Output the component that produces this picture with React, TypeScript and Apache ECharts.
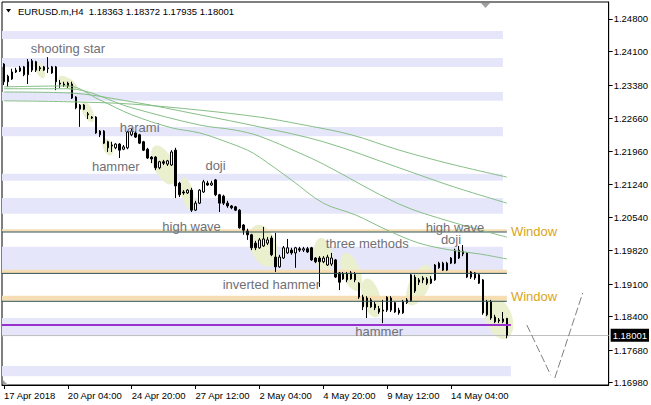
import React, { useEffect, useRef } from 'react';
import * as echarts from 'echarts';

const SYMBOL = 'EURUSD.m,H4';
const X_TICK_LABELS = ['17 Apr 2018', '20 Apr 04:00', '24 Apr 20:00', '27 Apr 12:00', '2 May 04:00', '4 May 20:00', '9 May 12:00', '14 May 04:00'];
const BARS_PER_LABEL = 16;
const SLOT_COUNT = 152;
const Y_TICKS = [1.1698, 1.1768, 1.184, 1.191, 1.1982, 1.2054, 1.2124, 1.2196, 1.2266, 1.2338, 1.241, 1.248];
const Y_MIN = 1.1693;
const Y_MAX = 1.25165;

// [open, close, low, high]
const CANDLES: number[][] = [
  [1.2383, 1.2345, 1.2338, 1.2385], [1.2357, 1.2345, 1.2334, 1.2360], [1.2351, 1.2366, 1.2349, 1.2373], [1.2366, 1.2370, 1.2364, 1.2375],
  [1.2368, 1.2375, 1.2366, 1.2379], [1.2360, 1.2377, 1.2357, 1.2379], [1.2360, 1.2388, 1.2340, 1.2394], [1.2370, 1.2390, 1.2366, 1.2394],
  [1.2388, 1.2370, 1.2366, 1.2390], [1.2375, 1.2373, 1.2368, 1.2379], [1.2370, 1.2377, 1.2368, 1.2379], [1.2373, 1.2375, 1.2364, 1.2398],
  [1.2377, 1.2364, 1.2362, 1.2379], [1.2377, 1.2345, 1.2327, 1.2379], [1.2342, 1.2340, 1.2332, 1.2349], [1.2340, 1.2338, 1.2334, 1.2345],
  [1.2342, 1.2336, 1.2332, 1.2345], [1.2340, 1.2310, 1.2308, 1.2345], [1.2312, 1.2289, 1.2286, 1.2314], [1.2286, 1.2295, 1.2248, 1.2297],
  [1.2295, 1.2286, 1.2284, 1.2297], [1.2276, 1.2274, 1.2265, 1.2280], [1.2269, 1.2267, 1.2265, 1.2271], [1.2269, 1.2235, 1.2233, 1.2271],
  [1.2239, 1.2231, 1.2226, 1.2241], [1.2239, 1.2213, 1.2211, 1.2241], [1.2216, 1.2203, 1.2194, 1.2218], [1.2209, 1.2207, 1.2194, 1.2216],
  [1.2203, 1.2211, 1.2200, 1.2213], [1.2211, 1.2198, 1.2181, 1.2213], [1.2200, 1.2205, 1.2198, 1.2209], [1.2203, 1.2237, 1.2200, 1.2239],
  [1.2231, 1.2239, 1.2228, 1.2246], [1.2235, 1.2226, 1.2224, 1.2239], [1.2231, 1.2213, 1.2211, 1.2233], [1.2216, 1.2198, 1.2196, 1.2218],
  [1.2200, 1.2181, 1.2179, 1.2203], [1.2183, 1.2179, 1.2170, 1.2185], [1.2183, 1.2160, 1.2155, 1.2185], [1.2160, 1.2173, 1.2157, 1.2175],
  [1.2173, 1.2170, 1.2166, 1.2177], [1.2168, 1.2175, 1.2164, 1.2177], [1.2166, 1.2194, 1.2164, 1.2198], [1.2198, 1.2121, 1.2095, 1.2203],
  [1.2127, 1.2102, 1.2097, 1.2130], [1.2108, 1.2106, 1.2102, 1.2112], [1.2106, 1.2112, 1.2104, 1.2114], [1.2112, 1.2069, 1.2065, 1.2117],
  [1.2069, 1.2084, 1.2067, 1.2089], [1.2084, 1.2112, 1.2082, 1.2114], [1.2108, 1.2130, 1.2106, 1.2134], [1.2127, 1.2123, 1.2121, 1.2132],
  [1.2123, 1.2127, 1.2121, 1.2132], [1.2134, 1.2102, 1.2099, 1.2136], [1.2102, 1.2084, 1.2065, 1.2104], [1.2099, 1.2084, 1.2080, 1.2102],
  [1.2084, 1.2078, 1.2074, 1.2089], [1.2078, 1.2074, 1.2071, 1.2080], [1.2076, 1.2069, 1.2067, 1.2078], [1.2069, 1.2031, 1.2029, 1.2071],
  [1.2037, 1.2026, 1.2016, 1.2039], [1.2024, 1.2016, 1.2005, 1.2029], [1.2016, 1.1988, 1.1983, 1.2018], [1.1998, 1.1988, 1.1983, 1.2003],
  [1.1988, 1.2005, 1.1986, 1.2009], [1.1992, 1.2007, 1.1990, 1.2033], [1.1998, 1.2005, 1.1994, 1.2011], [1.2009, 1.1973, 1.1970, 1.2014],
  [1.1968, 1.1947, 1.1936, 1.2020], [1.1947, 1.1968, 1.1945, 1.1973], [1.1966, 1.1988, 1.1964, 1.1992], [1.1977, 1.1988, 1.1975, 1.2007],
  [1.1983, 1.1977, 1.1973, 1.1988], [1.1977, 1.1988, 1.1945, 1.1990], [1.1986, 1.1983, 1.1979, 1.1990], [1.1983, 1.1986, 1.1979, 1.1990],
  [1.1986, 1.1979, 1.1977, 1.1990], [1.1988, 1.1962, 1.1960, 1.1990], [1.1966, 1.1958, 1.1955, 1.1968], [1.1966, 1.1958, 1.1904, 1.1970],
  [1.1958, 1.1966, 1.1955, 1.1970], [1.1951, 1.1968, 1.1949, 1.1973], [1.1953, 1.1966, 1.1949, 1.1977], [1.1962, 1.1925, 1.1923, 1.1964],
  [1.1934, 1.1914, 1.1897, 1.1936], [1.1921, 1.1932, 1.1919, 1.1936], [1.1919, 1.1932, 1.1914, 1.1936], [1.1921, 1.1934, 1.1919, 1.1938],
  [1.1932, 1.1919, 1.1914, 1.1936], [1.1912, 1.1882, 1.1878, 1.1914], [1.1882, 1.1861, 1.1854, 1.1887], [1.1880, 1.1861, 1.1837, 1.1884],
  [1.1861, 1.1876, 1.1859, 1.1880], [1.1867, 1.1859, 1.1854, 1.1872], [1.1857, 1.1850, 1.1846, 1.1863], [1.1854, 1.1852, 1.1826, 1.1876],
  [1.1854, 1.1882, 1.1850, 1.1884], [1.1880, 1.1854, 1.1850, 1.1884], [1.1870, 1.1850, 1.1848, 1.1872], [1.1854, 1.1848, 1.1844, 1.1859],
  [1.1848, 1.1872, 1.1846, 1.1876], [1.1870, 1.1876, 1.1867, 1.1880], [1.1874, 1.1930, 1.1872, 1.1932], [1.1895, 1.1925, 1.1891, 1.1930],
  [1.1914, 1.1919, 1.1908, 1.1923], [1.1919, 1.1923, 1.1912, 1.1927], [1.1921, 1.1912, 1.1908, 1.1925], [1.1912, 1.1921, 1.1910, 1.1927],
  [1.1919, 1.1951, 1.1917, 1.1953], [1.1945, 1.1955, 1.1943, 1.1958], [1.1955, 1.1940, 1.1938, 1.1958], [1.1955, 1.1940, 1.1938, 1.1958],
  [1.1955, 1.1966, 1.1953, 1.1968], [1.1955, 1.1983, 1.1953, 1.1986], [1.1966, 1.1983, 1.1964, 1.1992], [1.1981, 1.1975, 1.1970, 1.1994],
  [1.1977, 1.1925, 1.1923, 1.1979], [1.1936, 1.1925, 1.1921, 1.1938], [1.1934, 1.1923, 1.1919, 1.1936], [1.1930, 1.1912, 1.1910, 1.1932],
  [1.1919, 1.1848, 1.1844, 1.1921], [1.1844, 1.1872, 1.1841, 1.1876], [1.1872, 1.1837, 1.1833, 1.1876], [1.1839, 1.1829, 1.1826, 1.1844],
  [1.1833, 1.1831, 1.1826, 1.1837], [1.1829, 1.1835, 1.1826, 1.1850], [1.18363, 1.18001, 1.17935, 1.18372],
];

// moving averages, [bar index, value]
const MA_FAST = [[0, 1.2334], [16, 1.2336], [24, 1.2306], [32, 1.2274], [42, 1.2246], [49, 1.2235], [55, 1.2218], [61, 1.2198], [64, 1.2183], [72, 1.2134], [80, 1.2084], [88, 1.2059], [96, 1.2026], [104, 1.1998], [112, 1.1983], [119, 1.1975], [126, 1.1964]];
const MA_MID = [[0, 1.2330], [16, 1.2330], [32, 1.2289], [49, 1.2252], [58, 1.2241], [64, 1.2228], [74, 1.2192], [80, 1.2168], [99, 1.2082], [112, 1.2044], [126, 1.2011]];
const MA_SLOW = [[0, 1.2323], [16, 1.2321], [32, 1.2302], [49, 1.2274], [64, 1.2248], [80, 1.2216], [99, 1.2160], [112, 1.2121], [126, 1.2084]];
const MA_SLOWEST = [[0, 1.2304], [16, 1.2302], [32, 1.2297], [49, 1.2284], [64, 1.2269], [74, 1.2254], [87, 1.2231], [99, 1.2198], [112, 1.2168], [126, 1.2140]];

const PROJECTION_DOWN = [[131, 1.1822], [137, 1.1714]];
const PROJECTION_UP = [[138, 1.1708], [145, 1.1891]];

const LAVENDER_ZONES = [[1.2454, 1.2437], [1.2396, 1.2377], [1.2323, 1.2304], [1.2248, 1.2228], [1.2147, 1.2132], [1.2095, 1.2061], [1.1990, 1.1938], [1.1837, 1.1798], [1.1734, 1.1712]];
const LAVENDER_END = [125, 125, 125, 125, 125, 125, 125, 125, 127];
const WINDOW_ZONES = [[1.2028, 1.2023], [1.1941, 1.1934], [1.1885, 1.1874]];
const WINDOW_LINES = [1.2022, 1.1933, 1.1873];
const WINDOW_END = 126;
const SUPPORT_LINE = 1.1822;
const SUPPORT_END = 127;

const PATTERN_NAMES = ['shooting star', 'harami', 'hammer', 'doji', 'high wave', 'three methods', 'inverted hammer', 'hammer', 'high wave', 'doji'];
const PATTERN_ANCHORS = [[16, 1.2416], [34, 1.2246], [28, 1.2162], [53, 1.2164], [47, 1.2033], [91, 1.1997], [67, 1.1910], [94, 1.1807], [113, 1.2032], [112, 1.2005]];
const WINDOW_NAMES = ['Window', 'Window'];
const WINDOW_ANCHORS = [[127, 1.2024], [127, 1.1884]];

const HIGHLIGHT_CENTERS = [[9, 1.2370], [16, 1.2342], [21, 1.2280], [26, 1.2205], [40, 1.2166], [46, 1.2104], [65, 1.1992], [80, 1.1973], [87, 1.1936], [92, 1.1880], [104, 1.1908], [124, 1.1837]];
// rx, ry (px), tilt (deg)
const HIGHLIGHT_SHAPES = [[4, 9, 25], [11, 5, -35], [5, 11, 25], [5, 9, 20], [10, 21, 25], [6, 17, 15], [13, 22, 20], [9, 17, 10], [9, 20, 20], [9, 20, 15], [10, 22, -25], [13, 22, 20]];

const FONT = '"Liberation Sans", Arial, sans-serif';

function zoneSeries(zones: number[][], ends: number[], color: string, z: number) {
  return {
    type: 'custom', z, silent: true,
    data: zones.map((b, i) => [ends[i], b[0], b[1]]),
    encode: { x: 0, y: [1, 2] },
    renderItem: (params: any, api: any) => {
      const cs = params.coordSys;
      const p1 = api.coord([api.value(0), api.value(1)]);
      const p2 = api.coord([api.value(0), api.value(2)]);
      return { type: 'rect', shape: { x: cs.x, y: p1[1], width: p1[0] - cs.x, height: p2[1] - p1[1] }, style: { fill: color } };
    },
  };
}

function hLineSeries(levels: number[], end: number, color: string, width: number, z: number) {
  return {
    type: 'custom', z, silent: true,
    data: levels.map((v) => [end, v]),
    encode: { x: 0, y: 1 },
    renderItem: (params: any, api: any) => {
      const cs = params.coordSys;
      const p = api.coord([api.value(0), api.value(1)]);
      return { type: 'line', shape: { x1: cs.x, y1: p[1], x2: p[0], y2: p[1] }, style: { stroke: color, lineWidth: width } };
    },
  };
}

function textSeries(anchors: number[][], names: string[], color: string, align: string, z: number) {
  return {
    type: 'custom', z, silent: true,
    data: anchors,
    encode: { x: 0, y: 1 },
    renderItem: (params: any, api: any) => {
      const p = api.coord([api.value(0), api.value(1)]);
      return {
        type: 'text', x: p[0], y: p[1],
        style: { text: names[params.dataIndex], fill: color, font: `13px ${FONT}`, align, verticalAlign: 'middle' },
      };
    },
  };
}

function maSeries(data: number[][]) {
  return {
    type: 'line', z: 7, data, showSymbol: false, symbol: 'none', smooth: 0.35, silent: true,
    lineStyle: { color: '#86BE86', width: 1 },
  };
}

export default function App() {
  const ref = useRef<HTMLDivElement>(null);
  useEffect(() => {
    document.body.style.margin = '0';
    const chart = echarts.init(ref.current!, null, { renderer: 'svg' });
    const last = CANDLES[CANDLES.length - 1];
    const lastPrice = last[1];
    const header = `${SYMBOL}\u00a0\u00a0${last[0].toFixed(5)} ${last[3].toFixed(5)} ${last[2].toFixed(5)} ${last[1].toFixed(5)}`;
    const categories = Array.from({ length: SLOT_COUNT }, (_, i) => String(i));
    const showTick = (i: number) => i % BARS_PER_LABEL === 0 && i / BARS_PER_LABEL < X_TICK_LABELS.length;

    chart.setOption({
      animation: false,
      backgroundColor: '#fff',
      grid: { left: 2, right: 42, top: 2, bottom: 20, show: true, borderColor: '#000', borderWidth: 1, backgroundColor: '#fff' },
      xAxis: {
        type: 'category', data: categories, boundaryGap: true,
        axisLine: { show: true, lineStyle: { color: '#000' } },
        axisTick: { show: true, alignWithLabel: true, interval: (i: number) => showTick(i), length: 4, lineStyle: { color: '#000' } },
        axisLabel: {
          interval: (i: number) => showTick(i),
          formatter: (_v: string, i: number) => X_TICK_LABELS[i / BARS_PER_LABEL],
          align: 'left', color: '#000', fontSize: 9.5, fontFamily: FONT, margin: 5,
        },
        splitLine: { show: false },
      },
      yAxis: {
        type: 'value', position: 'right', min: Y_MIN, max: Y_MAX,
        axisLine: { show: true, lineStyle: { color: '#000' } },
        axisTick: { show: true, customValues: Y_TICKS, length: 4, lineStyle: { color: '#000' } },
        axisLabel: { customValues: Y_TICKS, formatter: (v: number) => v.toFixed(5), color: '#000', fontSize: 9.5, fontFamily: FONT, margin: 5 },
        splitLine: { show: false },
      },
      graphic: [
        { type: 'polygon', shape: { points: [[6, 9], [11, 9], [8.5, 12.5]] }, style: { fill: '#000' }, z: 100 },
        { type: 'text', x: 18, y: 11, style: { text: header, fill: '#000', font: `9.5px ${FONT}`, verticalAlign: 'middle' }, z: 100 },
        { type: 'polygon', shape: { points: [[481, 3], [490, 3], [485.5, 8]] }, style: { fill: '#A0A0A0' }, z: 100 },
        { type: 'polygon', shape: { points: [[3, 380], [3, 385], [8, 385]] }, style: { fill: '#A0A0A0' }, z: 100 },
      ],
      series: [
        zoneSeries(LAVENDER_ZONES, LAVENDER_END, '#E6E6FA', 1),
        {
          type: 'custom', z: 2, silent: true,
          data: HIGHLIGHT_CENTERS,
          encode: { x: 0, y: 1 },
          renderItem: (params: any, api: any) => {
            const p = api.coord([api.value(0), api.value(1)]);
            const s = HIGHLIGHT_SHAPES[params.dataIndex];
            return {
              type: 'ellipse', x: p[0], y: p[1], rotation: (s[2] * Math.PI) / 180,
              shape: { cx: 0, cy: 0, rx: s[0], ry: s[1] }, style: { fill: '#EAF0CE' },
            };
          },
        },
        zoneSeries(WINDOW_ZONES, WINDOW_ZONES.map(() => WINDOW_END), '#F5DEB3', 3),
        {
          type: 'candlestick', z: 5, data: CANDLES, barWidth: 2, silent: true,
          itemStyle: { color: '#fff', color0: '#000', borderColor: '#000', borderColor0: '#000', borderWidth: 1 },
          markLine: {
            silent: true, symbol: ['none', 'none'],
            lineStyle: { color: '#C0C0C0', type: 'solid', width: 1 },
            label: {
              show: true, position: 'end', formatter: lastPrice.toFixed(5), distance: 2,
              backgroundColor: '#000', color: '#fff', fontSize: 9.5, fontFamily: FONT, padding: [2, 2, 1, 2],
            },
            data: [{ yAxis: lastPrice }],
          },
        },
        hLineSeries(WINDOW_LINES, WINDOW_END, '#2F4F4F', 1, 6),
        hLineSeries([SUPPORT_LINE], SUPPORT_END, '#9932CC', 2, 6),
        maSeries(MA_SLOWEST),
        maSeries(MA_SLOW),
        maSeries(MA_MID),
        maSeries(MA_FAST),
        {
          type: 'line', z: 7, data: PROJECTION_DOWN, symbol: 'none', silent: true,
          lineStyle: { color: '#808080', width: 1, type: [8, 3] },
        },
        {
          type: 'line', z: 7, data: PROJECTION_UP, symbol: 'none', silent: true,
          lineStyle: { color: '#808080', width: 1, type: [8, 3] },
        },
        textSeries(PATTERN_ANCHORS, PATTERN_NAMES, '#707078', 'center', 8),
        textSeries(WINDOW_ANCHORS, WINDOW_NAMES, '#DAA520', 'left', 8),
      ],
    });
    return () => chart.dispose();
  }, []);
  return <div ref={ref} style={{ position: 'fixed', left: 0, top: 0, width: 651, height: 405 }} />;
}
